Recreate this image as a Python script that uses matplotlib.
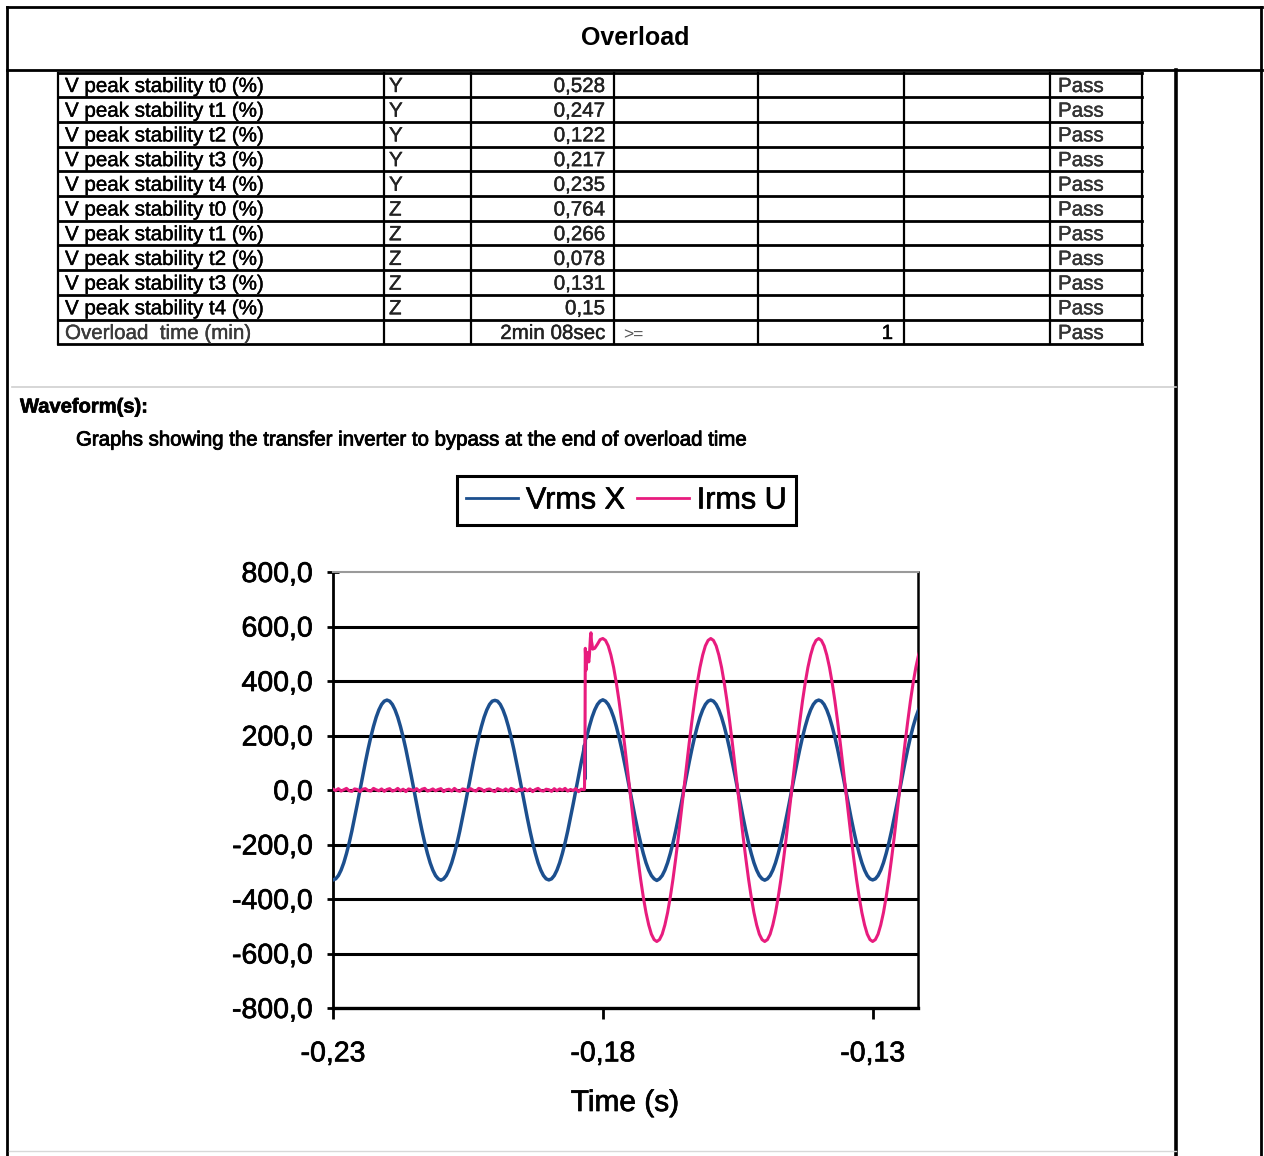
import numpy as np
import matplotlib
matplotlib.use("Agg")
import matplotlib.pyplot as plt
from matplotlib.lines import Line2D
import matplotlib.patheffects as pe

plt.rcParams['font.family'] = ['Liberation Sans', 'DejaVu Sans']

# ---------------- table data ----------------
row_names = ["V peak stability t0 (%)", "V peak stability t1 (%)", "V peak stability t2 (%)",
             "V peak stability t3 (%)", "V peak stability t4 (%)",
             "V peak stability t0 (%)", "V peak stability t1 (%)", "V peak stability t2 (%)",
             "V peak stability t3 (%)", "V peak stability t4 (%)",
             "Overload  time (min)"]
row_axis = ["Y", "Y", "Y", "Y", "Y", "Z", "Z", "Z", "Z", "Z", ""]
row_values = ["0,528", "0,247", "0,122", "0,217", "0,235",
              "0,764", "0,266", "0,078", "0,131", "0,15", "2min 08sec"]
row_condition = [""] * 10 + [">="]
row_limit = [""] * 10 + ["1"]
row_result = ["Pass"] * 11

# ---------------- waveform data ----------------
# sample grid, 0.5 ms step
time_s = np.round(np.arange(-0.2300, -0.12075, 0.0005), 4)

vrms_x = [
    -330, -326, -314, -294, -267, -233, -194, -150, -102, -52, 0, 52, 102, 150, 194, 233, 267, 294, 314, 326,
    330, 326, 314, 294, 267, 233, 194, 150, 102, 52, 0, -52, -102, -150, -194, -233, -267, -294, -314, -326,
    -331, -326, -314, -294, -267, -233, -194, -150, -102, -52, 0, 52, 102, 150, 194, 233, 267, 294, 314, 326,
    329, 326, 314, 294, 267, 233, 194, 150, 102, 52, 0, -52, -102, -150, -194, -233, -267, -294, -314, -326,
    -330, -326, -314, -294, -267, -233, -194, -150, -102, -52, 0, 52, 102, 150, 194, 233, 267, 294, 314, 326,
    331, 326, 314, 294, 267, 233, 194, 150, 102, 52, 0, -52, -102, -150, -194, -233, -267, -294, -314, -326,
    -332, -326, -314, -294, -267, -233, -194, -150, -102, -52, 0, 52, 102, 150, 194, 233, 267, 294, 314, 326,
    330, 326, 314, 294, 267, 233, 194, 150, 102, 52, 0, -52, -102, -150, -194, -233, -267, -294, -314, -326,
    -331, -326, -314, -294, -267, -233, -194, -150, -102, -52, 0, 52, 102, 150, 194, 233, 267, 294, 314, 326,
    330, 326, 314, 294, 267, 233, 194, 150, 102, 52, 0, -52, -102, -150, -194, -233, -267, -294, -314, -326,
    -330, -326, -314, -294, -267, -233, -194, -150, -102, -52, 0, 52, 102, 150, 194, 233, 267, 294, 314]

irms_u = [
    # inverter side: current near zero
    3, -2, 5, -4, 1, 6, -3, -5, 4, 2, -6, 3, 5, -2, -4, 6, 1, -3, 4, -5,
    2, 5, -4, -1, 6, -3, 3, -6, 4, 1, -2, 5, -5, 3, 6, -4, -1, 4, -3, 2,
    5, -6, 1, 3, -4, 6, -2, -5, 4, 2, -3, 5, -1, -4, 6, 3, -5, 2, 4, -2,
    -6, 5, 1, -3, 4, -4, 6, 2, -5, 3, -1, 5, -3, 4, -6, 2, 6, -2, -4, 3,
    1, -5, 5, -3, 4, -1, 6, -4, 2, -2, 5, -6, 3, 1,
    # bypass side
    480, 490, 535, 520, 535, 552, 556,
    549, 529, 495, 450, 393, 327, 252, 172, 87, 0, -87, -172, -252, -327, -393, -450, -495, -529, -549, -556,
    -549, -529, -495, -450, -393, -327, -252, -172, -87, 0, 87, 172, 252, 327, 393, 450, 495, 529, 549, 556,
    549, 529, 495, 450, 393, 327, 252, 172, 87, 0, -87, -172, -252, -327, -393, -450, -495, -529, -549, -556,
    -549, -529, -495, -450, -393, -327, -252, -172, -87, 0, 87, 172, 252, 327, 393, 450, 495, 529, 549, 556,
    549, 529, 495, 450, 393, 327, 252, 172, 87, 0, -87, -172, -252, -327, -393, -450, -495, -529, -549, -556,
    -549, -529, -495, -450, -393, -327, -252, -172, -87, 0, 87, 172, 252, 327, 393, 450, 495, 529]

# transfer transient (inverter -> bypass), finer samples
vrms_sw_t = [-0.18340, -0.18332, -0.18324]
vrms_sw_v = [165, 40, 185]
irms_sw_t = [-0.18340, -0.18330, -0.18325, -0.18310, -0.18290, -0.18260, -0.18230, -0.18220, -0.18210, -0.18190]
irms_sw_v = [2, 190, 520, 440, 505, 470, 560, 577, 545, 517]

y_ticks = [-800, -600, -400, -200, 0, 200, 400, 600, 800]
x_ticks = [-0.23, -0.18, -0.13]
x_tick_labels = ["-0,23", "-0,18", "-0,13"]

BLUE = "#1c4f8e"
PINK = "#e81c7e"

W, H = 1264, 1156
fig = plt.figure(figsize=(W / 100, H / 100), dpi=100)
fig.patch.set_facecolor("white")

# page layer in pixel units (y downwards)
page = fig.add_axes([0, 0, 1, 1])
page.set_xlim(0, W)
page.set_ylim(H, 0)
page.axis("off")


def hline(y, x0, x1, lw=1.8, color="black"):
    page.add_line(Line2D([x0, x1], [y, y], color=color, lw=lw, solid_capstyle="projecting"))


def vline(x, y0, y1, lw=1.8, color="black"):
    page.add_line(Line2D([x, x], [y0, y1], color=color, lw=lw, solid_capstyle="projecting"))


def ink(color, w=0.3):
    return [pe.withStroke(linewidth=w, foreground=color)]


# outer frame and header
hline(7, 7, 1262, lw=2.0)
vline(7, 7, 1156, lw=2.0)
vline(1261, 7, 1156, lw=2.0)
hline(69.5, 7, 1262, lw=2.0)
vline(1176, 70, 1156, lw=2.6)
hline(387, 12, 1176, lw=1.2, color="#cfcfcf")
hline(1151, 9, 1176, lw=1.0, color="#d8d8d8")
page.text(635, 38, "Overload", ha="center", va="center", fontsize=18, fontweight="bold")

# results table
col_x = [58, 384, 470.5, 613.5, 758, 904, 1050, 1142]
row_top = 72.5
row_h = 24.7
n_rows = len(row_names)
for i in range(n_rows + 1):
    hline(row_top + i * row_h, col_x[0], col_x[-1], lw=2.0)
for cx in col_x:
    vline(cx, row_top, row_top + n_rows * row_h, lw=1.6)

fs_tab = 14.8
for i in range(n_rows):
    yb = row_top + i * row_h + 19.5
    name_color = "#3a3a3a" if i == n_rows - 1 else "black"
    page.text(65, yb, row_names[i], ha="left", va="baseline", fontsize=fs_tab, color=name_color,
              path_effects=ink(name_color))
    page.text(389, yb, row_axis[i], ha="left", va="baseline", fontsize=fs_tab, color="#222222",
              path_effects=ink("#222222"))
    page.text(605, yb, row_values[i], ha="right", va="baseline", fontsize=fs_tab, color="#222222",
              path_effects=ink("#222222"))
    page.text(623, yb, row_condition[i], ha="left", va="baseline", fontsize=12.5, color="#555555")
    page.text(893, yb, row_limit[i], ha="right", va="baseline", fontsize=fs_tab, color="black",
              path_effects=ink("black"))
    page.text(1058, yb, row_result[i], ha="left", va="baseline", fontsize=fs_tab, color="#333333",
              path_effects=ink("#333333"))

# section headings
page.text(20, 407, "Waveform(s):", ha="left", va="center", fontsize=14.5, fontweight="bold",
          path_effects=ink("black", 0.5))
page.text(76, 440, "Graphs showing the transfer inverter to bypass at the end of overload time",
          ha="left", va="center", fontsize=14.7, path_effects=ink("black", 0.6))

# ---------------- chart ----------------
L, R, T, B = 333, 918, 572, 1008
ax = fig.add_axes([L / W, 1 - B / H, (R - L) / W, (B - T) / H])
ax.set_zorder(2)

vt = np.concatenate([time_s, vrms_sw_t])
vv = np.concatenate([vrms_x, vrms_sw_v])
o = np.argsort(vt, kind="stable")
line_v, = ax.plot(vt[o], vv[o], color=BLUE, lw=2.5, label="Vrms X", zorder=3)

it = np.concatenate([time_s, irms_sw_t])
iv = np.concatenate([irms_u, irms_sw_v])
o = np.argsort(it, kind="stable")
line_i, = ax.plot(it[o], iv[o], color=PINK, lw=2.2, label="Irms U", zorder=4)

ax.set_xlim(-0.23, -0.1216)
ax.set_ylim(-800, 800)
ax.set_yticks(y_ticks)
ax.set_yticklabels([f"{v:.1f}".replace(".", ",") for v in y_ticks])
ax.set_xticks(x_ticks)
ax.set_xticklabels(x_tick_labels)

ax.yaxis.grid(True, color="black", lw=2.2)
ax.set_axisbelow(True)
for gl, v in zip(ax.get_ygridlines(), y_ticks):
    if v in (800, -800):
        gl.set_visible(False)

ax.spines["left"].set_linewidth(2.0)
ax.spines["bottom"].set_linewidth(2.4)
ax.spines["right"].set_linewidth(1.8)
ax.spines["top"].set_linewidth(1.5)
ax.spines["top"].set_color("#9a9a9a")

ax.tick_params(axis="y", direction="inout", length=9, width=2.0, labelsize=20.5, pad=10)
ax.tick_params(axis="x", direction="out", length=8, width=2.0, labelsize=20.5, pad=16)
for lbl in ax.get_xticklabels() + ax.get_yticklabels():
    lbl.set_path_effects(ink("black", 0.5))

ax.set_xlabel("Time (s)", fontsize=21.5)
ax.xaxis.set_label_coords((625 - L) / (R - L), -(1103 - B) / (B - T))
ax.xaxis.label.set_va("center")
ax.xaxis.label.set_path_effects(ink("black", 0.5))

leg = fig.legend(handles=[line_v, line_i], labels=["Vrms X", "Irms U"], loc="center",
                 bbox_to_anchor=(626.5 / W, 1 - 500.5 / H), ncol=2, fontsize=22,
                 frameon=True, fancybox=False, edgecolor="black", framealpha=1,
                 handlelength=1.7, handletextpad=0.25, columnspacing=0.4, borderpad=0.3,
                 borderaxespad=0)
leg.get_frame().set_linewidth(2.2)
for h in leg.get_lines():
    h.set_linewidth(2.0)
for txt in leg.get_texts():
    txt.set_path_effects(ink("black", 0.5))

fig.savefig("out.png", dpi=100, facecolor="white")
